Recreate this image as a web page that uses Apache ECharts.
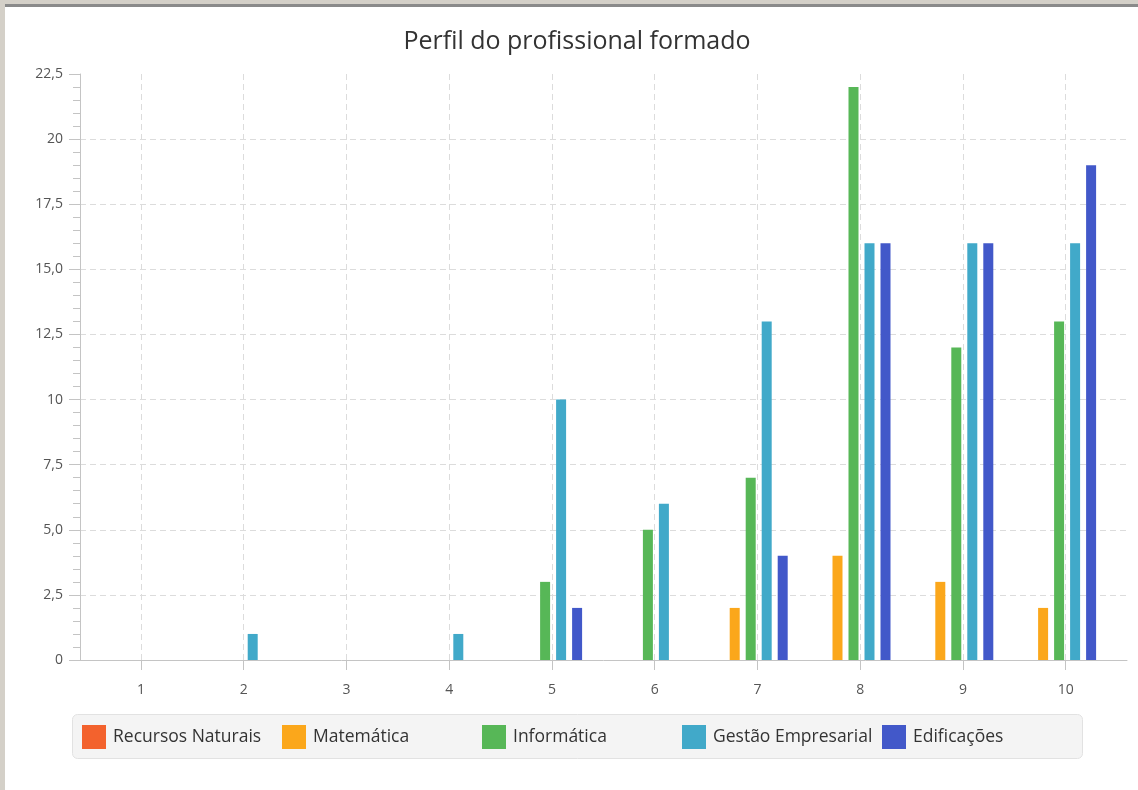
<!DOCTYPE html>
<html>
<head>
<meta charset="utf-8">
<title>Perfil do profissional formado</title>
<script src="https://cdn.jsdelivr.net/npm/echarts@6/dist/echarts.min.js"></script>
<style>
  html, body { margin: 0; padding: 0; background: #fff; }
  #chart { width: 1138px; height: 790px; }
</style>
</head>
<body>
<div id="chart"></div>
<script>
// categorias do eixo x
var categorias = ['1', '2', '3', '4', '5', '6', '7', '8', '9', '10'];

// valores de cada curso
var recursosNaturais = [0, 0, 0, 0, 0, 0, 0, 0, 0, 0];
var matematica = [0, 0, 0, 0, 0, 0, 2, 4, 3, 2];
var informatica = [0, 0, 0, 0, 3, 5, 7, 22, 12, 13];
var gestaoEmpresarial = [0, 1, 0, 1, 10, 6, 13, 16, 16, 16];
var edificacoes = [0, 0, 0, 0, 2, 0, 4, 16, 16, 19];

// rotulos do eixo y (0 a 22,5 de 2,5 em 2,5)
var rotulosY = ['0', '2,5', '5,0', '7,5', '10', '12,5', '15,0', '17,5', '20', '22,5'];

var nomes = ['Recursos Naturais', 'Matemática', 'Informática', 'Gestão Empresarial', 'Edificações'];
var valores = [recursosNaturais, matematica, informatica, gestaoEmpresarial, edificacoes];
var cores = ['#f3622d', '#fba71b', '#57b757', '#41a9c9', '#4258c9'];

var fonte = '"Open Sans", "Noto Sans", sans-serif';
var corEixo = '#c4c4c4';
var tracejado = { color: '#dcdcdc', type: [6, 4], width: 1 };

var chart = echarts.init(document.getElementById('chart'));

var series = nomes.map(function (nome, i) {
    return {
        name: nome,
        type: 'bar',
        xAxisIndex: 2,
        yAxisIndex: 2,
        barWidth: 10,
        barGap: '60%',
        itemStyle: { color: cores[i] },
        data: valores[i],
    };
});

// uma legenda por item, como nos blocos do JavaFX
var legendas = nomes.map(function (nome, i) {
    return {
        data: [nome],
        left: 82 + 200 * i,
        top: 725,
        itemWidth: 24,
        itemHeight: 24,
        padding: 0,
        icon: 'rect',
        selectedMode: false,
        textStyle: { fontSize: 17.5, color: '#333', fontFamily: fonte, padding: [2, 0, 0, 2] },
    };
});

var eixoYBase = {
    type: 'value',
    min: 0,
    max: 22.5,
    interval: 2.5,
};

var option = {
    animation: false,
    color: cores,
    title: {
        text: 'Perfil do profissional formado',
        left: 572,
        textAlign: 'center',
        top: 24,
        textStyle: { fontSize: 25, fontWeight: 'normal', color: '#333', fontFamily: fonte },
    },
    legend: legendas,
    grid: [
        { left: 80, right: 11, top: 74, bottom: 130 },
        { left: 140.9, right: 72.3, top: 74, bottom: 130 },
        { left: 82.5, right: 27.5, top: 74, bottom: 130 },
    ],
    xAxis: [
        {
            gridIndex: 0,
            type: 'value',
            min: 0,
            max: 1,
            axisLine: { show: true, lineStyle: { color: corEixo } },
            axisTick: { show: false },
            axisLabel: { show: false },
            splitLine: { show: false },
        },
        {
            gridIndex: 1,
            type: 'category',
            boundaryGap: false,
            data: categorias,
            axisLine: { show: false },
            axisTick: { show: true, length: 10, lineStyle: { color: corEixo } },
            axisLabel: { margin: 23, fontSize: 14, color: '#555', fontFamily: fonte },
            splitLine: { show: true, lineStyle: tracejado },
        },
        {
            gridIndex: 2,
            type: 'category',
            data: categorias,
            show: false,
        },
    ],
    yAxis: [
        Object.assign({}, eixoYBase, {
            gridIndex: 0,
            axisLine: { show: true, lineStyle: { color: corEixo } },
            axisTick: { show: true, length: 11, lineStyle: { color: corEixo } },
            minorTick: { show: true, splitNumber: 5, length: 7, lineStyle: { color: corEixo } },
            axisLabel: {
                margin: 17,
                fontSize: 14,
                color: '#555',
                fontFamily: fonte,
                formatter: function (v) { return rotulosY[Math.round(v / 2.5)]; },
            },
            splitLine: { show: true, showMinLine: false, showMaxLine: false, lineStyle: tracejado },
        }),
        Object.assign({}, eixoYBase, { gridIndex: 1, show: false, splitLine: { show: false } }),
        Object.assign({}, eixoYBase, { gridIndex: 2, show: false, splitLine: { show: false } }),
    ],
    graphic: [
        // moldura da janela
        { type: 'rect', shape: { x: 0, y: 0, width: 1138, height: 4 }, style: { fill: '#d4d0c8' }, silent: true },
        { type: 'rect', shape: { x: 4, y: 4, width: 1134, height: 3 }, style: { fill: '#8a8a8a' }, silent: true },
        { type: 'rect', shape: { x: 0, y: 0, width: 5, height: 790 }, style: { fill: '#d4d0c8' }, silent: true },
        // caixa da legenda
        {
            type: 'rect',
            z: 0,
            shape: { x: 72.5, y: 714.5, width: 1010, height: 44, r: 5 },
            style: { fill: '#f4f4f4', stroke: '#e2e2e2', lineWidth: 1 },
            silent: true,
        },
    ],
    series: series,
};

chart.setOption(option);
</script>
</body>
</html>
